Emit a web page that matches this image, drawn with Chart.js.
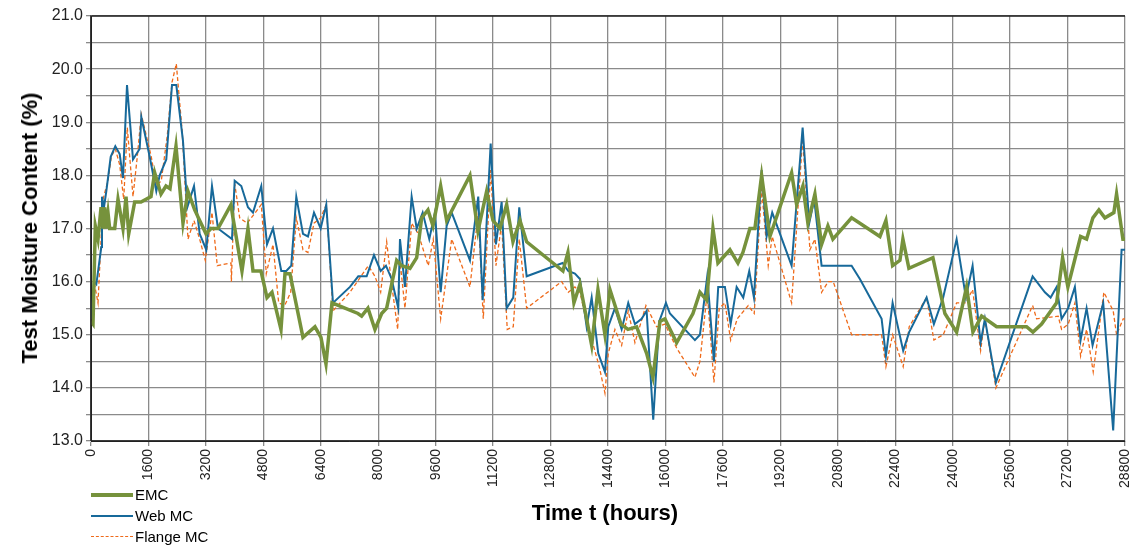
<!DOCTYPE html>
<html>
<head>
<meta charset="utf-8">
<script src="https://cdn.jsdelivr.net/npm/chart.js@4"></script>
<style>
  body { margin: 0; background: #fff; font-family: "Liberation Sans", Arial, sans-serif; }
  #wrap { position: relative; width: 1132px; height: 560px; }
  .ytitle { position: absolute; left: 30px; top: 228px; transform: translate(-50%, -50%) rotate(-90deg); font-weight: bold; font-size: 22px; white-space: nowrap; }
  .xtitle { position: absolute; left: 605px; top: 513px; transform: translate(-50%, -50%); font-weight: bold; font-size: 22px; white-space: nowrap; }
  .legend { position: absolute; left: 91px; top: 484px; font-size: 15px; line-height: 21px; }
  .legend div { display: flex; align-items: center; }
  .legend span.sw { display: inline-block; width: 42px; margin-right: 2px; }
</style>
</head>
<body>
<div id="wrap">
  <canvas id="chart" width="1132" height="560"></canvas>
  <div class="ytitle">Test Moisture Content (%)</div>
  <div class="xtitle">Time t (hours)</div>
  <div class="legend">
    <div><span class="sw" style="border-top:4px solid #76923c"></span>EMC</div>
    <div><span class="sw" style="border-top:2px solid #17699a"></span>Web MC</div>
    <div><span class="sw" style="border-top:1.5px dashed #ef6a1a"></span>Flange MC</div>
  </div>
</div>
<script>
// EMC
const emcT = [0, 56, 120, 195, 280, 334, 380, 418, 473, 520, 660, 752, 891, 975, 1050, 1217, 1393, 1671, 1774, 1950, 2089, 2200, 2367, 2562, 2701, 2888, 3203, 3342, 3537, 3899, 3955, 4205, 4372, 4512, 4735, 4902, 5041, 5292, 5403, 5542, 5904, 6238, 6405, 6545, 6712, 7436, 7539, 7714, 7909, 8096, 8235, 8514, 8653, 8884, 9071, 9210, 9385, 9525, 9739, 9906, 10555, 10778, 11020, 11196, 11391, 11577, 11753, 11948, 12134, 13145, 13284, 13451, 13619, 13945, 14120, 14315, 14454, 14760, 14956, 15198, 15476, 15652, 15847, 15986, 16312, 16766, 16961, 17148, 17323, 17462, 17796, 18019, 18158, 18353, 18492, 18679, 18910, 19514, 19654, 19829, 19968, 20163, 20349, 20525, 20664, 21185, 21974, 22141, 22327, 22531, 22614, 22781, 23450, 23784, 24110, 24388, 24564, 24806, 25224, 26059, 26235, 26477, 26895, 27062, 27209, 27563, 27730, 27906, 28073, 28240, 28490, 28565, 28742, 28800];
const emcV = [15.25, 15.2, 17.05, 16.8, 17.4, 17.0, 17.4, 17.0, 17.3, 17.0, 17.0, 17.55, 17.0, 17.6, 16.9, 17.5, 17.5, 17.6, 18.05, 17.65, 17.8, 17.75, 18.55, 17.1, 17.7, 17.35, 16.9, 17.0, 17.0, 17.45, 17.2, 16.2, 17.0, 16.2, 16.2, 15.7, 15.8, 15.1, 16.15, 16.15, 14.95, 15.15, 14.95, 14.45, 15.6, 15.4, 15.35, 15.5, 15.1, 15.4, 15.5, 16.4, 16.3, 16.25, 16.45, 17.2, 17.35, 17.05, 17.8, 17.15, 18.0, 16.95, 17.7, 17.15, 17.0, 17.45, 16.75, 17.15, 16.75, 16.2, 16.55, 15.6, 15.95, 14.8, 15.85, 15.0, 15.85, 15.2, 15.1, 15.15, 14.65, 14.2, 15.25, 15.3, 14.85, 15.4, 15.8, 15.65, 17.0, 16.35, 16.6, 16.35, 16.55, 17.0, 17.0, 18.0, 16.85, 18.05, 17.45, 17.8, 17.1, 17.65, 16.7, 17.05, 16.8, 17.2, 16.85, 17.15, 16.3, 16.4, 16.8, 16.25, 16.45, 15.4, 15.05, 15.9, 15.05, 15.35, 15.15, 15.15, 15.05, 15.2, 15.6, 16.45, 15.9, 16.85, 16.8, 17.2, 17.35, 17.2, 17.3, 17.65, 16.8, 16.8];

// Web MC
const webT = [0, 84, 148, 287, 306, 362, 426, 549, 677, 799, 891, 1003, 1170, 1356, 1401, 1635, 1819, 1913, 2097, 2256, 2376, 2562, 2682, 2869, 3027, 3211, 3370, 3537, 3927, 4002, 4186, 4372, 4512, 4743, 4902, 5069, 5300, 5439, 5578, 5718, 5904, 6043, 6211, 6397, 6553, 6740, 7213, 7444, 7678, 7882, 8068, 8216, 8374, 8558, 8606, 8745, 8931, 9071, 9238, 9422, 9580, 9739, 9906, 10046, 10555, 10786, 10909, 11132, 11279, 11438, 11577, 11761, 11928, 12134, 13137, 13293, 13479, 13619, 13805, 13945, 14128, 14315, 14407, 14593, 14780, 14964, 15150, 15337, 15476, 15660, 15827, 16014, 16125, 16821, 16961, 17164, 17351, 17470, 17657, 17816, 17983, 18167, 18334, 18465, 18679, 18818, 18974, 19514, 19821, 20004, 20144, 20349, 21185, 21416, 22021, 22141, 22327, 22622, 22789, 23274, 23477, 23736, 24110, 24369, 24555, 24778, 24898, 25204, 26227, 26569, 26728, 26895, 27034, 27218, 27404, 27563, 27730, 27897, 28193, 28471, 28705, 28800];
const webV = [15.3, 16.0, 15.95, 16.65, 17.6, 17.4, 17.7, 18.35, 18.55, 18.4, 17.95, 19.7, 18.3, 18.5, 19.1, 18.35, 17.7, 18.0, 18.3, 19.7, 19.7, 18.65, 17.4, 17.8, 16.9, 16.6, 17.8, 17.0, 16.8, 17.9, 17.8, 17.4, 17.3, 17.8, 16.7, 17.0, 16.2, 16.2, 16.3, 17.6, 16.9, 16.85, 17.3, 17.0, 17.45, 15.6, 15.9, 16.1, 16.1, 16.5, 16.2, 16.3, 16.05, 15.5, 16.8, 15.9, 17.6, 17.0, 17.3, 16.8, 17.3, 15.8, 17.05, 17.3, 16.4, 17.6, 15.65, 18.6, 16.7, 17.5, 15.5, 15.7, 17.4, 16.1, 16.35, 16.2, 16.15, 16.05, 15.15, 15.7, 14.65, 14.3, 15.15, 15.5, 15.1, 15.6, 15.2, 15.3, 15.45, 13.4, 15.25, 15.6, 15.4, 14.9, 15.0, 16.1, 14.5, 15.9, 15.9, 15.2, 15.9, 15.7, 16.2, 15.7, 18.1, 16.85, 17.3, 16.3, 18.9, 17.1, 17.55, 16.3, 16.3, 16.05, 15.3, 14.6, 15.6, 14.7, 15.05, 15.7, 15.2, 15.7, 16.8, 15.7, 16.3, 14.85, 15.3, 14.1, 16.1, 15.8, 15.7, 15.9, 15.3, 15.5, 15.9, 14.9, 15.5, 14.8, 15.6, 13.2, 16.6, 16.6];

// Flange MC
const flangeT = [0, 84, 195, 334, 473, 565, 677, 799, 911, 1011, 1170, 1289, 1401, 1540, 1679, 1819, 1958, 2125, 2256, 2376, 2543, 2701, 2869, 3027, 3183, 3370, 3517, 3900, 3910, 4002, 4141, 4353, 4743, 4882, 5069, 5227, 5395, 5562, 5718, 5904, 6043, 6211, 6397, 6553, 6740, 7213, 7723, 7909, 8068, 8235, 8374, 8542, 8606, 8745, 8931, 9116, 9394, 9533, 9739, 10046, 10555, 10786, 10926, 11132, 11279, 11438, 11594, 11761, 11928, 12134, 13109, 13293, 13479, 13619, 13805, 13972, 14156, 14315, 14407, 14593, 14780, 14964, 15150, 15457, 15755, 15986, 16312, 16821, 16961, 17164, 17351, 17498, 17657, 17816, 18000, 18306, 18473, 18679, 18863, 18974, 19514, 19821, 20024, 20163, 20349, 20534, 20673, 21185, 22021, 22141, 22327, 22622, 22789, 23274, 23477, 23736, 24110, 24369, 24555, 24778, 24898, 25204, 26227, 26338, 26939, 27034, 27218, 27404, 27563, 27730, 27915, 28212, 28471, 28565, 28750, 28800];
const flangeV = [15.3, 16.0, 15.6, 17.55, 17.9, 18.35, 18.5, 18.2, 17.55, 18.9, 17.6, 18.35, 19.15, 18.75, 18.35, 17.8, 17.9, 18.75, 19.75, 20.1, 18.8, 16.8, 17.15, 16.8, 16.4, 17.3, 16.3, 16.35, 16.0, 17.85, 17.2, 17.1, 17.45, 16.15, 16.7, 15.6, 15.55, 15.8, 17.2, 16.6, 16.55, 17.1, 17.2, 17.45, 15.45, 15.8, 16.3, 16.1, 15.8, 16.75, 15.95, 15.1, 16.4, 15.5, 17.1, 16.9, 16.3, 16.8, 15.3, 16.8, 15.9, 17.3, 15.3, 18.1, 16.3, 17.1, 15.1, 15.15, 16.8, 15.5, 16.0, 15.8, 15.9, 15.8, 15.25, 14.85, 14.4, 13.9, 14.65, 15.1, 14.8, 15.45, 14.85, 15.55, 15.15, 15.2, 14.75, 14.2, 14.5, 15.8, 14.1, 15.5, 15.6, 14.9, 15.3, 15.55, 15.4, 17.75, 16.3, 16.85, 15.6, 18.7, 16.6, 16.8, 15.8, 16.0, 16.0, 15.0, 15.0, 14.4, 15.0, 14.4, 15.15, 15.7, 14.9, 15.0, 15.6, 15.6, 15.85, 14.7, 15.3, 14.0, 15.55, 15.3, 15.35, 15.1, 15.2, 15.6, 14.6, 15.1, 14.3, 15.8, 15.45, 15.0, 15.3, 15.3];

const xTicks = { min: 0, max: 28800, step: 1600 };
const yTicks = { min: 13, max: 21, step: 0.5 };

function pts(t, v) { return t.map((x, i) => ({ x: x, y: v[i] })); }

const frame = {
  id: 'frame',
  afterDraw(chart) {
    const a = chart.chartArea, c = chart.ctx;
    c.save();
    c.strokeStyle = '#222';
    c.lineWidth = 1.5;
    c.beginPath();
    c.moveTo(a.left, a.bottom); c.lineTo(a.left, a.top); c.lineTo(a.right, a.top);
    c.moveTo(a.left, a.bottom); c.lineTo(a.right, a.bottom);
    c.stroke();
    c.restore();
  }
};

new Chart(document.getElementById('chart').getContext('2d'), {
  type: 'line',
  data: {
    datasets: [
      { label: 'EMC', data: pts(emcT, emcV), borderColor: '#76923c', borderWidth: 3.5, pointRadius: 0, tension: 0 },
      { label: 'Web MC', data: pts(webT, webV), borderColor: '#17699a', borderWidth: 2, pointRadius: 0, tension: 0 },
      { label: 'Flange MC', data: pts(flangeT, flangeV), borderColor: '#ef6a1a', borderWidth: 1.3, borderDash: [4, 2.5], pointRadius: 0, tension: 0 }
    ]
  },
  options: {
    responsive: false,
    animation: false,
    layout: { padding: { top: 16, right: 7, left: 0, bottom: 0 } },
    plugins: { legend: { display: false }, tooltip: { enabled: false } },
    scales: {
      x: {
        type: 'linear', min: xTicks.min, max: xTicks.max,
        afterFit(s) { s.height = 119; s.paddingRight = 0; },
        grid: { color: '#8a8a8a', lineWidth: 1.3, drawTicks: true, tickLength: 5 },
        border: { color: '#222' },
        ticks: { stepSize: xTicks.step, maxRotation: 90, minRotation: 90, autoSkip: false, color: '#222',
                 font: { family: 'Liberation Sans', size: 14 }, callback: v => String(v) }
      },
      y: {
        min: yTicks.min, max: yTicks.max,
        afterFit(s) { s.width = 91; },
        grid: { color: '#8a8a8a', lineWidth: 1.3, tickLength: 5 },
        border: { color: '#222' },
        ticks: { stepSize: yTicks.step, autoSkip: false, color: '#222', font: { family: 'Liberation Sans', size: 16 },
                 callback: v => (Math.abs(v - Math.round(v)) < 1e-6 ? v.toFixed(1) : '') }
      }
    }
  },
  plugins: [frame]
});
</script>
</body>
</html>
